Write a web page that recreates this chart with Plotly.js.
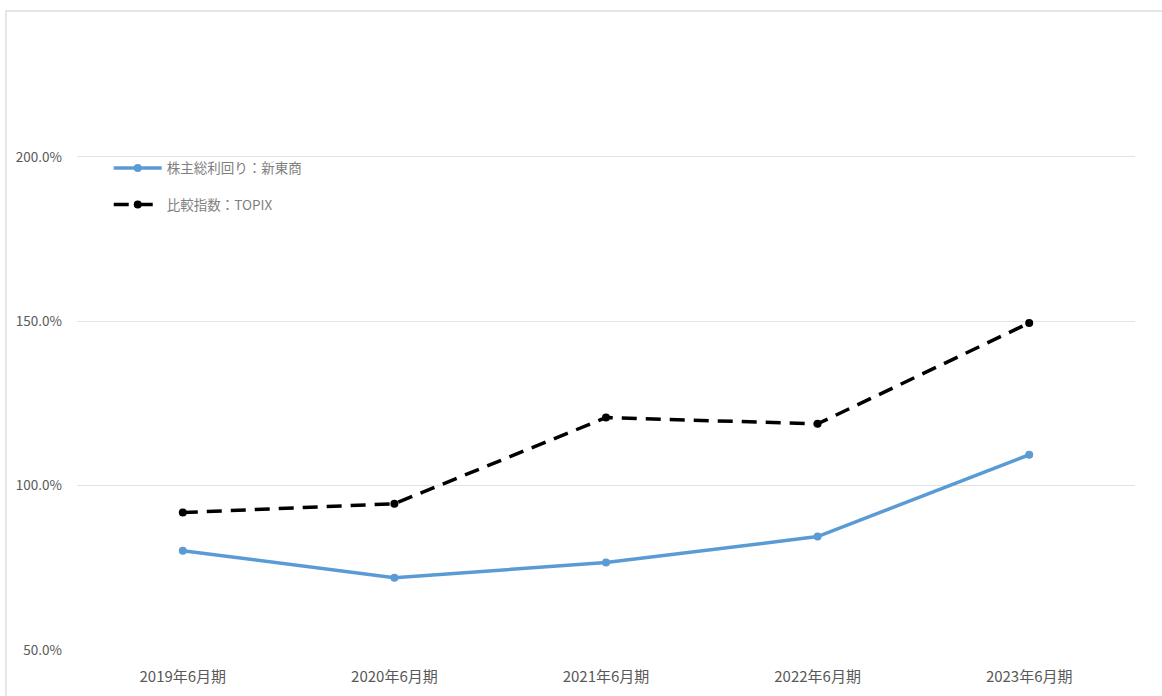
<!DOCTYPE html>
<html>
<head>
<meta charset="utf-8">
<script src="https://cdn.plot.ly/plotly-3.0.1.min.js"></script>
<style>
html,body{margin:0;padding:0;background:#fff;}
#wrap{position:relative;width:1162px;height:696px;}
#chart{position:absolute;left:0;top:0;width:1162px;height:696px;}
#frame{position:absolute;left:5px;top:10px;width:1170px;height:700px;border-top:2px solid #e6e6e6;border-left:2px solid #e6e6e6;pointer-events:none;}
</style>
</head>
<body>
<div id="wrap"><div id="chart"></div><div id="frame"></div></div>
<script>
const categories = ["2019年6月期","2020年6月期","2021年6月期","2022年6月期","2023年6月期"];
const companyTSR = [80.2, 72.0, 76.6, 84.5, 109.4];
const topixTSR = [91.8, 94.5, 120.7, 118.8, 149.5];
const seriesNames = ["株主総利回り：新東商","比較指数：TOPIX"];
const yTicks = [50, 100, 150, 200];
const yTickLabels = ["50.0%","100.0%","150.0%","200.0%"];

const traces = [
  {
    x: categories, y: companyTSR, name: seriesNames[0], type: "scatter", mode: "lines+markers",
    line: {color: "#5B9BD5", width: 3.5}, marker: {color: "#5B9BD5", size: 8},
    legendgroup: "a"
  },
  {
    x: categories, y: topixTSR, name: seriesNames[1], type: "scatter", mode: "lines+markers",
    line: {color: "#000000", width: 3.5, dash: "15px,9px"}, marker: {color: "#000000", size: 8},
    legendgroup: "b"
  }
];

const layout = {
  width: 1162, height: 696,
  margin: {l: 77, r: 27, t: 10, b: 46},
  paper_bgcolor: "#ffffff", plot_bgcolor: "#ffffff",
  font: {family: "'Noto Sans CJK JP', 'Noto Sans', sans-serif", color: "#595959", size: 12},
  xaxis: {
    type: "category", range: [-0.5, 4.5], showgrid: false, showline: false, zeroline: false,
    ticks: "", tickfont: {size: 15, color: "#595959"}, ticklabelstandoff: 16
  },
  yaxis: {
    range: [50, 244.7], tickvals: yTicks, ticktext: yTickLabels,
    showgrid: true, gridcolor: "#e3e3e3", gridwidth: 1, zeroline: false, showline: false,
    ticks: "", tickfont: {size: 13.5, color: "#595959"}, ticklabelstandoff: 14
  },
  showlegend: true,
  legend: {
    x: 0.03, y: 0.777, xanchor: "left", yanchor: "top",
    bgcolor: "rgba(0,0,0,0)", font: {size: 13.5, color: "#7f7f7f"},
    itemwidth: 48, traceorder: "grouped", tracegroupgap: 16
  }
};

Plotly.newPlot("chart", traces, layout, {displayModeBar: false, staticPlot: true});
</script>
</body>
</html>
